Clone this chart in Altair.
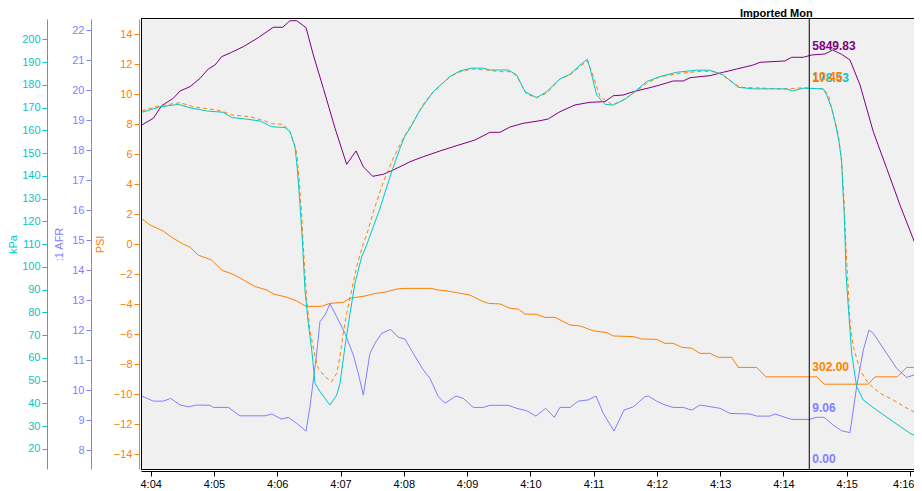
import json
import altair as alt
import pandas as pd

# ---------------- data (time in seconds after 4:00) ----------------
X_TICKS = [240, 300, 360, 420, 480, 540, 600, 660, 720, 780, 840, 900, 960]
X_TICK_LABELS = ["4:04", "4:05", "4:06", "4:07", "4:08", "4:09", "4:10",
                 "4:11", "4:12", "4:13", "4:14", "4:15", "4:16"]
X_DOMAIN = [230.8, 963.8]
CURSOR_T = 864.5
TITLE = "Imported Mon"

# MAP (kPa), teal
kpa = [(231.5, 167.9), (248.8, 170.3), (266.2, 171.4), (277.3, 169.9), (293.1, 168.5),
       (308.8, 167.9), (316.8, 165.6), (327.8, 165.1), (343.6, 164.1), (354.7, 161.6),
       (367.3, 161.2), (372.1, 159.4), (376.8, 152.8), (379.0, 143.3), (381.6, 127.2),
       (383.9, 110.9), (386.3, 89.8), (389.4, 75.2), (392.7, 63.5), (395.8, 48.8),
       (400.5, 45.2), (410.0, 39.3), (416.4, 43.7), (419.5, 48.8), (424.2, 64.9),
       (429.0, 79.6), (433.7, 92.8), (440.1, 104.5), (444.8, 109.6), (457.4, 125.7),
       (468.5, 141.8), (476.4, 152.1), (481.1, 157.6), (485.9, 160.9), (495.4, 168.9),
       (508.0, 177.0), (523.8, 183.6), (533.3, 186.1), (544.4, 187.3), (555.4, 187.3),
       (561.7, 186.5), (579.1, 186.5), (587.0, 184.3), (594.9, 177.0), (606.0, 174.3),
       (615.5, 177.0), (628.1, 182.6), (637.6, 184.6), (647.1, 188.7), (654.0, 191.2),
       (656.6, 187.3), (662.9, 175.5), (670.8, 171.4), (678.6, 171.1), (691.3, 174.1),
       (700.8, 177.7), (710.3, 181.4), (722.9, 183.6), (738.8, 185.5), (757.7, 186.4),
       (770.3, 186.4), (782.9, 184.3), (797.2, 178.9), (811.4, 178.2), (843.1, 178.2),
       (848.7, 177.3), (858.8, 178.5), (877.8, 178.2), (881.0, 175.5), (885.7, 169.7),
       (888.9, 163.8), (892.7, 155.0), (895.2, 146.2), (896.2, 136.0), (897.7, 122.8),
       (898.6, 109.6), (899.3, 97.2), (901.5, 82.5), (904.7, 62.0), (909.4, 47.4),
       (915.7, 41.5), (928.4, 37.1), (944.1, 32.0), (960.0, 26.9), (971.3, 24.2)]

# Boost (PSI), orange dashed
psi = [(231.5, 8.87), (248.8, 9.22), (267.8, 9.42), (280.4, 9.15), (302.6, 8.93),
       (308.8, 8.82), (316.8, 8.6), (334.2, 8.49), (348.4, 8.2), (354.7, 8.02),
       (365.7, 7.98), (372.1, 7.49), (378.4, 6.15), (380.9, 4.15), (383.2, 1.93),
       (384.4, 0.15), (387.9, -3.73), (391.0, -5.73), (395.8, -7.51), (398.9, -8.29),
       (405.3, -8.85), (411.6, -9.18), (416.4, -8.62), (419.5, -7.51), (422.6, -5.95),
       (425.8, -4.62), (430.6, -3.07), (435.3, -1.51), (441.6, 0.05), (444.8, 0.6),
       (451.1, 2.15), (460.6, 4.15), (470.0, 5.71), (479.5, 7.05), (489.0, 8.15),
       (498.5, 9.31), (508.0, 10.15), (523.8, 11.15), (531.7, 11.45), (544.4, 11.67),
       (558.6, 11.6), (571.2, 11.49), (580.7, 11.49), (587.0, 11.22), (596.5, 9.98),
       (606.0, 9.78), (615.5, 10.05), (628.1, 11.0), (637.6, 11.27), (648.7, 11.93),
       (654.0, 12.2), (658.2, 11.49), (666.1, 9.82), (677.1, 9.31), (685.0, 9.45),
       (697.6, 10.05), (710.3, 10.71), (722.9, 11.15), (741.9, 11.38), (764.0, 11.53),
       (778.2, 11.45), (786.2, 11.05), (798.8, 10.45), (809.9, 10.42), (843.1, 10.33),
       (858.8, 10.42), (877.8, 10.33), (882.6, 9.93), (887.3, 8.6), (892.1, 7.27),
       (895.2, 5.49), (897.5, 2.82), (899.1, 0.05), (900.6, -1.95), (903.2, -5.29),
       (906.3, -6.85), (912.6, -8.4), (920.5, -9.29), (931.6, -9.95), (944.1, -10.4),
       (960.0, -11.07), (971.3, -11.4)]

# AFR, violet
afr = [(231.5, 9.8), (242.5, 9.63), (251.9, 9.63), (259.0, 9.72), (267.8, 9.5),
       (275.7, 9.44), (283.6, 9.5), (296.2, 9.49), (299.4, 9.42), (313.6, 9.42),
       (324.7, 9.14), (348.4, 9.14), (354.7, 9.2), (364.2, 9.03), (370.5, 9.09),
       (378.4, 8.89), (387.3, 8.63), (391.0, 9.44), (394.2, 10.33), (397.4, 11.22),
       (400.5, 12.28), (405.3, 12.5), (410.0, 12.87), (416.4, 12.44), (424.2, 11.89),
       (432.1, 11.17), (436.8, 10.56), (441.6, 9.83), (447.9, 11.22), (452.7, 11.56),
       (459.0, 11.89), (467.6, 12.02), (474.8, 11.76), (481.1, 11.7), (489.0, 11.22),
       (498.5, 10.67), (504.8, 10.39), (512.7, 9.78), (519.1, 9.56), (529.5, 9.8),
       (536.4, 9.72), (545.9, 9.42), (555.4, 9.42), (561.7, 9.49), (579.1, 9.49),
       (587.0, 9.39), (596.5, 9.31), (605.3, 9.13), (614.5, 9.39), (622.7, 9.09),
       (628.1, 9.42), (637.6, 9.42), (645.5, 9.63), (654.9, 9.67), (662.2, 9.8),
       (669.2, 9.22), (679.3, 8.63), (688.8, 9.33), (697.6, 9.44), (708.7, 9.78),
       (711.8, 9.8), (719.8, 9.63), (727.7, 9.5), (735.5, 9.42), (745.0, 9.42),
       (753.0, 9.33), (760.8, 9.5), (779.8, 9.39), (789.3, 9.22), (808.3, 9.2),
       (814.6, 9.13), (827.2, 9.13), (832.0, 9.2), (847.8, 9.02), (864.5, 9.02),
       (871.5, 9.09), (878.4, 9.09), (887.3, 8.83), (895.2, 8.64), (903.1, 8.58),
       (909.4, 10.11), (915.7, 11.33), (921.1, 12.0), (925.2, 11.89), (937.9, 11.22),
       (947.4, 10.72), (956.8, 10.42), (966.3, 10.53), (971.3, 10.61)]

# second orange channel (solid, no axis shown)
aux = [(231.5, 820), (239.3, 800), (251.9, 780), (261.4, 756), (270.9, 737),
       (277.3, 727), (285.1, 701), (297.8, 685), (307.3, 652), (318.3, 638),
       (327.8, 620), (338.9, 598), (350.0, 587), (356.2, 574), (369.0, 563),
       (378.4, 551), (387.3, 533), (402.1, 533), (410.0, 543), (422.6, 546),
       (429.0, 560), (443.2, 567), (451.1, 574), (463.8, 581), (473.3, 590),
       (481.1, 592), (506.4, 592), (511.2, 587), (520.7, 584), (530.1, 578),
       (542.8, 570), (553.9, 551), (560.1, 543), (571.2, 541), (580.7, 527),
       (588.6, 524), (594.9, 508), (606.0, 507), (613.9, 497), (623.4, 497),
       (637.6, 472), (647.1, 469), (659.7, 453), (672.4, 447), (678.6, 436),
       (697.6, 434), (705.6, 426), (719.8, 425), (727.7, 412), (735.5, 412),
       (743.5, 399), (753.0, 396), (760.8, 379), (770.3, 379), (778.2, 366),
       (790.9, 366), (797.2, 333), (814.6, 333), (823.4, 302), (871.5, 302),
       (878.7, 278), (920.4, 278), (926.8, 302), (948.0, 302), (956.8, 333),
       (965.7, 333), (971.3, 360)]

# RPM-like channel, purple (no axis shown)
rpm = [(231.5, 4870), (242.5, 4965), (250.4, 5143), (261.4, 5248), (267.8, 5351),
       (277.3, 5412), (286.8, 5531), (294.6, 5662), (301.0, 5719), (307.3, 5837),
       (316.8, 5899), (327.8, 5978), (342.0, 6106), (356.2, 6253), (365.2, 6253),
       (372.1, 6346), (378.4, 6346), (387.3, 6247), (394.2, 5861), (403.7, 5389),
       (414.8, 4823), (425.8, 4313), (434.7, 4502), (441.6, 4279), (450.5, 4143),
       (460.6, 4172), (470.0, 4233), (481.1, 4313), (485.9, 4350), (498.5, 4421),
       (514.3, 4502), (530.1, 4577), (547.5, 4657), (561.7, 4766), (571.2, 4766),
       (580.7, 4841), (593.3, 4894), (609.1, 4930), (617.0, 4955), (628.1, 5058),
       (642.3, 5153), (656.6, 5191), (670.8, 5200), (678.6, 5284), (688.1, 5294),
       (697.6, 5341), (713.4, 5398), (722.9, 5436), (735.5, 5493), (745.0, 5493),
       (751.4, 5539), (770.3, 5568), (782.9, 5616), (795.6, 5662), (811.4, 5719),
       (817.8, 5757), (841.4, 5776), (847.8, 5828), (858.8, 5828), (866.8, 5861),
       (879.4, 5875), (886.7, 5931), (895.2, 5870), (903.1, 5790), (912.6, 5436),
       (925.2, 4775), (937.9, 4257), (950.5, 3737), (964.7, 3195), (971.3, 3076)]

# cursor read-outs
LBL_RPM = 5849.83
LBL_KPA = 178.53
LBL_PSI = 10.45
LBL_AUX = 302.00
LBL_AFR = 9.06
LBL_ZERO = 0.00

KPA_TICKS = list(range(20, 201, 10))
AFR_TICKS = list(range(8, 23))
PSI_TICKS = list(range(-14, 15, 2))

# ---------------- style ----------------
TEAL = "#00C8C8"
ORANGE = "#FF8000"
VIOLET = "#8080FF"
PURPLE = "#800080"
FONT = "Liberation Sans"
W, H = 773, 450

KPA_DOM = [11.2, 208.9]
AFR_DOM = [7.367, 22.367]
PSI_DOM = [-15, 15]
AUX_DOM = [0, 1475]
RPM_DOM = [0, 6370]
ZERO_DOM = [0, 100]


def df(pairs):
    return pd.DataFrame(pairs, columns=["t", "v"])


x_axis = alt.Axis(
    values=X_TICKS,
    labelExpr=f"{json.dumps(X_TICK_LABELS)}[indexof({json.dumps(X_TICKS)}, datum.value)]",
    orient="bottom", offset=2, tickSize=5, labelPadding=2, title=None,
    domainColor="black", tickColor="black", labelColor="black",
    labelFont=FONT, labelFontSize=11, grid=False, labelOverlap=False,
    labelFlush=6, labelFlushOffset=4,
)
X = alt.X("t:Q", scale=alt.Scale(domain=X_DOMAIN, nice=False, zero=False), axis=x_axis)


def yaxis(color, title, values, offset, title_pad):
    return alt.Axis(
        orient="left", offset=offset, values=values, title=title,
        domainColor=color, tickColor=color, labelColor=color, titleColor=color,
        tickSize=5, labelPadding=2, titlePadding=title_pad,
        labelFont=FONT, labelFontSize=11, titleFont=FONT, titleFontSize=11,
        titleFontWeight="normal", grid=False, labelOverlap=False,
    )


def Y(dom, axis=None):
    sc = alt.Scale(domain=dom, nice=False, zero=False)
    if axis is None:
        return alt.Y("v:Q", scale=sc, axis=None)
    return alt.Y("v:Q", scale=sc, axis=axis)


aux_line = alt.Chart(df(aux)).mark_line(color=ORANGE, strokeWidth=1).encode(
    x=X, y=Y(AUX_DOM))
rpm_line = alt.Chart(df(rpm)).mark_line(color=PURPLE, strokeWidth=1).encode(
    x=X, y=Y(RPM_DOM))
afr_line = alt.Chart(df(afr)).mark_line(color=VIOLET, strokeWidth=1).encode(
    x=X, y=Y(AFR_DOM, yaxis(VIOLET, ":1 AFR", AFR_TICKS, 50, 7)))
psi_line = alt.Chart(df(psi)).mark_line(color=ORANGE, strokeWidth=1, strokeDash=[4, 3]).encode(
    x=X, y=Y(PSI_DOM, yaxis(ORANGE, "PSI", PSI_TICKS, 2, 8)))
kpa_line = alt.Chart(df(kpa)).mark_line(color=TEAL, strokeWidth=1).encode(
    x=X, y=Y(KPA_DOM, yaxis(TEAL, "kPa", KPA_TICKS, 94, 3)))

cursor = alt.Chart(pd.DataFrame({"t": [CURSOR_T]})).mark_rule(
    color="black", strokeWidth=1).encode(x=X)


def label(value, dom, color):
    return alt.Chart(pd.DataFrame({"t": [CURSOR_T], "v": [value]})).mark_text(
        align="left", baseline="middle", dx=3, dy=-10, color=color,
        font=FONT, fontSize=12, fontWeight="bold",
    ).encode(x=X, y=Y(dom), text=alt.Text("v:Q", format=".2f"))


one = pd.DataFrame({"a": [0]})
border_top = alt.Chart(one).mark_rule(color="black", strokeWidth=1).encode(
    x=alt.value(0), x2=alt.value(W), y=alt.value(-0.5))
border_left = alt.Chart(one).mark_rule(color="black", strokeWidth=1).encode(
    x=alt.value(0.5), y=alt.value(0), y2=alt.value(H))
border_bottom = alt.Chart(one).mark_rule(color="black", strokeWidth=1).encode(
    x=alt.value(0), x2=alt.value(W), y=alt.value(H + 0.5))

title = alt.Chart(pd.DataFrame({"txt": [TITLE]})).mark_text(
    align="left", baseline="alphabetic", font=FONT, fontSize=11,
    fontWeight="bold", color="black",
).encode(x=alt.value(599), y=alt.value(-2.5), text="txt:N")

chart = alt.layer(
    aux_line, rpm_line, afr_line, psi_line, kpa_line,
    border_top, border_left, border_bottom, cursor,
    label(LBL_RPM, RPM_DOM, PURPLE),
    label(LBL_KPA, KPA_DOM, TEAL),
    label(LBL_PSI, PSI_DOM, ORANGE),
    label(LBL_AUX, AUX_DOM, ORANGE),
    label(LBL_AFR, AFR_DOM, VIOLET),
    label(LBL_ZERO, ZERO_DOM, VIOLET),
    title,
).resolve_scale(y="independent").properties(
    width=W, height=H,
    autosize=alt.AutoSizeParams(type="none"),
    padding={"left": 133, "top": 11, "right": 0, "bottom": 20},
    background="white",
).configure_view(fill="#F0F0F0", stroke="transparent")

chart.save("out.html", embed_options={"renderer": "svg", "actions": False})
